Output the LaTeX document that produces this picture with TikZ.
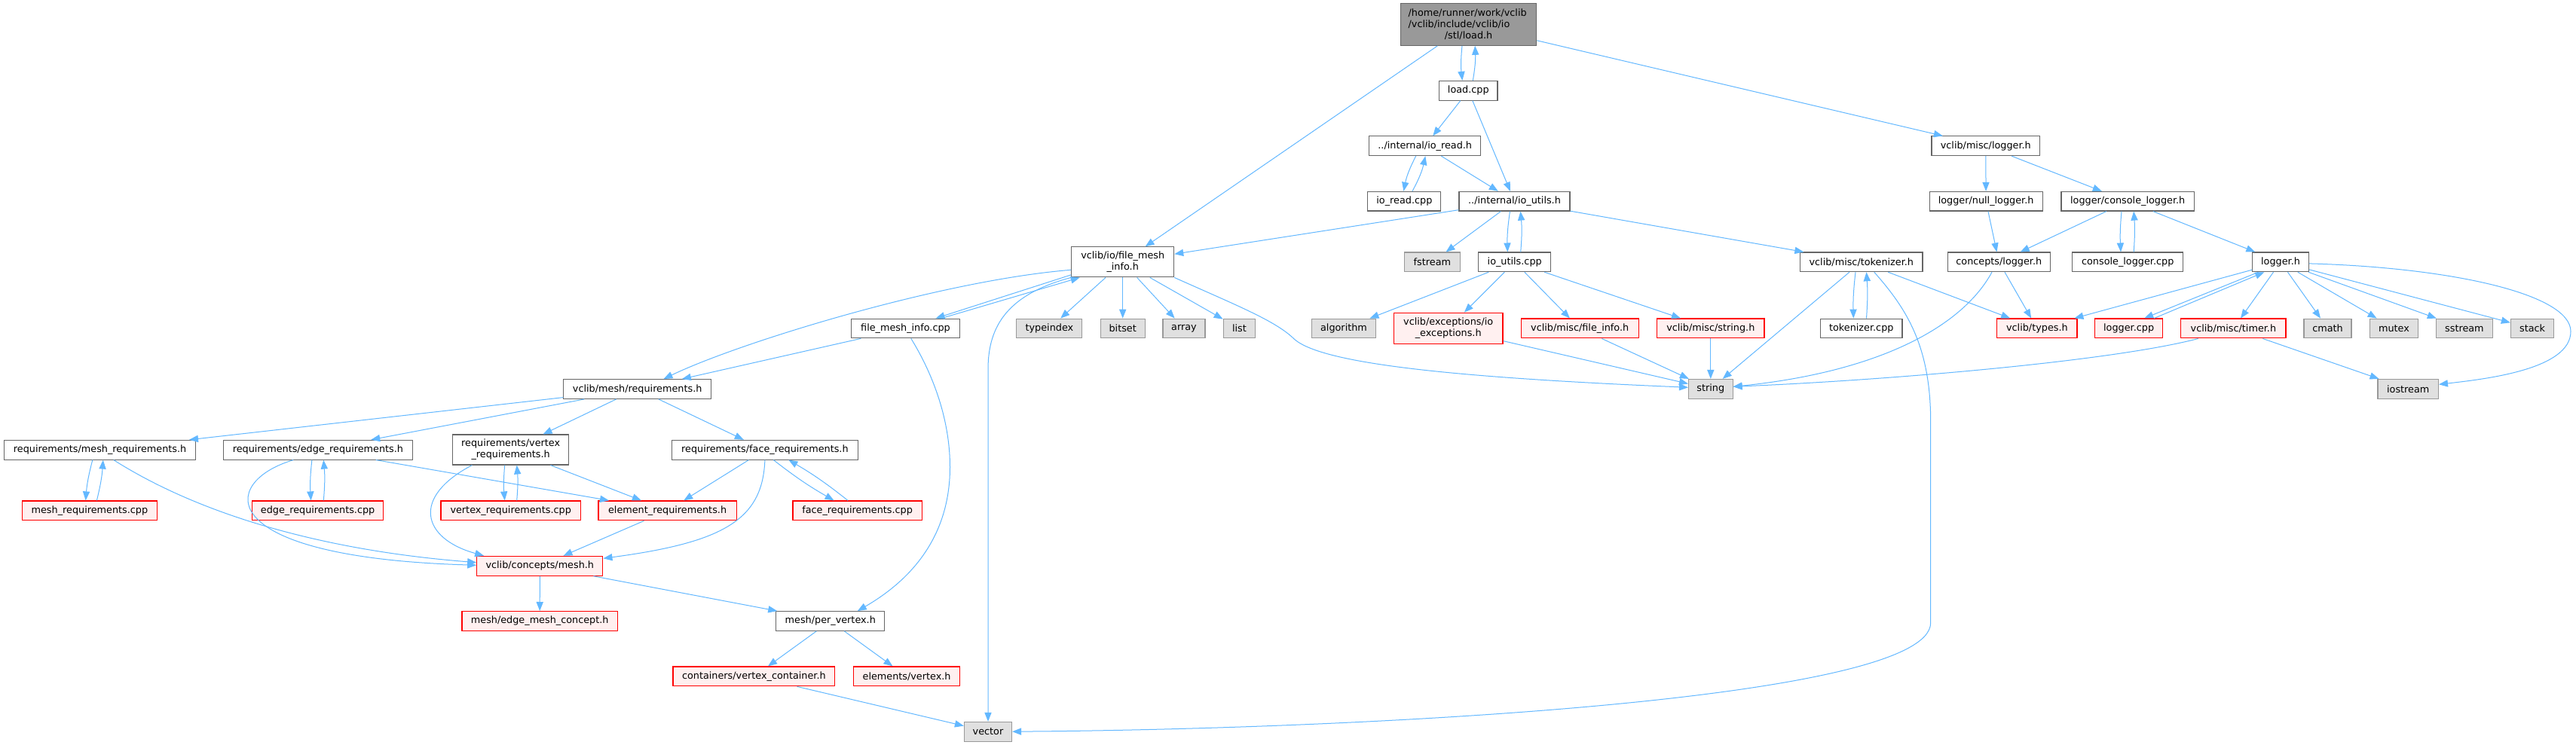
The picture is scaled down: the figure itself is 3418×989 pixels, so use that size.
\documentclass[tikz,border=0pt]{standalone}
\usepackage{fontspec}
\setmainfont{DejaVu Sans}
\usetikzlibrary{arrows.meta}
\definecolor{edgec}{HTML}{63B8FF}
\definecolor{gfour}{HTML}{666666}
\definecolor{gsix}{HTML}{999999}
\definecolor{sysfill}{HTML}{E0E0E0}
\definecolor{redfill}{HTML}{FFF0F0}
\begin{document}
\begin{tikzpicture}[x=0.5pt,y=-0.5pt,
  box/.style={rectangle, inner sep=0pt, minimum height=12.85pt, line width=0.55pt, font=\fontsize{6.4}{7.4}\selectfont, text=black},
  nrm/.style={box, draw=gfour, fill=white},
  rootn/.style={box, draw=gfour, fill=gsix},
  redn/.style={box, draw=red, fill=redfill, line width=0.65pt},
  sysn/.style={box, draw=gsix, fill=sysfill},
  e/.style={draw=edgec, line width=0.5pt, -{Triangle[length=6pt,width=4.6pt]}}]
\fill[white] (0,0) rectangle (3418,989);
\useasboundingbox (0,0) rectangle (3418,989);
% nodes
\node[rootn, minimum width=90.1pt, minimum height=27.8pt, text width=80pt, align=left] (root) at (1948.6,32.5) {/home/runner/work/vclib\\/vclib/include/vclib/io\\\makebox[\hsize]{/stl/load.h}};
\node[nrm, minimum width=38.7pt] (loadcpp) at (1948.3,120.3) {load.cpp};
\node[nrm, minimum width=74pt] (ioread) at (1890.7,193.8) {../internal/io\_read.h};
\node[nrm, minimum width=48.5pt] (ioreadcpp) at (1863.4,267.2) {io\_read.cpp};
\node[nrm, minimum width=73.5pt] (ioutils) at (2009.5,267.2) {../internal/io\_utils.h};
\node[nrm, minimum width=71.8pt] (misclogger) at (2634.8,193.8) {vclib/misc/logger.h};
\node[nrm, minimum width=75pt] (nulllogger) at (2635.1,267.2) {logger/null\_logger.h};
\node[nrm, minimum width=88.2pt] (consolelogger) at (2823.2,267.2) {logger/console\_logger.h};
\node[nrm, minimum width=68pt, minimum height=20pt, align=center] (fmi) at (1489.7,347.9) {vclib/io/file\_mesh\\\_info.h};
\node[sysn, minimum width=36.7pt] (fstream) at (1900.4,347.9) {fstream};
\node[nrm, minimum width=48pt] (ioutilscpp) at (2009.7,347.9) {io\_utils.cpp};
\node[nrm, minimum width=81.2pt] (tokenizer) at (2469.8,347.9) {vclib/misc/tokenizer.h};
\node[nrm, minimum width=68pt] (conceptslogger) at (2652.3,347.9) {concepts/logger.h};
\node[nrm, minimum width=73.5pt] (consoleloggercpp) at (2823.2,347.9) {console\_logger.cpp};
\node[nrm, minimum width=37.3pt] (loggerh) at (3026,347.9) {logger.h};
\node[nrm, minimum width=72.35pt] (fmicpp) at (1201.5,436) {file\_mesh\_info.cpp};
\node[sysn, minimum width=43.5pt] (typeindex) at (1392.4,436) {typeindex};
\node[sysn, minimum width=29.5pt] (bitset) at (1489.7,436) {bitset};
\node[sysn, minimum width=28pt] (array) at (1571,436) {array};
\node[sysn, minimum width=21.2pt] (list) at (1644.4,436) {list};
\node[sysn, minimum width=42.8pt] (algorithm) at (1783,436) {algorithm};
\node[redn, minimum width=72.35pt, minimum height=20.5pt, align=center] (ioexc) at (1921.7,435.8) {vclib/exceptions/io\\\_exceptions.h};
\node[redn, minimum width=78pt] (fileinfo) at (2096.2,436) {vclib/misc/file\_info.h};
\node[redn, minimum width=71.2pt] (stringh) at (2269.8,436) {vclib/misc/string.h};
\node[nrm, minimum width=54.2pt] (tokenizercpp) at (2469.8,436) {tokenizer.cpp};
\node[redn, minimum width=53.15pt] (types) at (2702.9,436) {vclib/types.h};
\node[redn, minimum width=45pt] (loggercpp) at (2824.6,436) {logger.cpp};
\node[redn, minimum width=69.65pt] (timer) at (2963.4,436) {vclib/misc/timer.h};
\node[sysn, minimum width=31.5pt] (cmath) at (3088.5,436) {cmath};
\node[sysn, minimum width=31.8pt] (mutex) at (3176.5,436) {mutex};
\node[sysn, minimum width=37.5pt] (sstream) at (3269.9,436) {sstream};
\node[sysn, minimum width=28.7pt] (stack) at (3360.1,436) {stack};
\node[sysn, minimum width=29.25pt] (string) at (2269.8,516.3) {string};
\node[sysn, minimum width=40.2pt] (iostream) at (3195.2,516.3) {iostream};
\node[nrm, minimum width=97.85pt] (requirements) at (845.7,516.5) {vclib/mesh/requirements.h};
\node[nrm, minimum width=127pt] (meshreq) at (132.6,597.2) {requirements/mesh\_requirements.h};
\node[nrm, minimum width=125.25pt] (edgereq) at (421.9,597.2) {requirements/edge\_requirements.h};
\node[nrm, minimum width=77.15pt, minimum height=20pt, align=center] (vertexreq) at (677.7,597) {requirements/vertex\\\_requirements.h};
\node[nrm, minimum width=123.3pt] (facereq) at (1014.9,597.2) {requirements/face\_requirements.h};
\node[redn, minimum width=89.4pt] (meshreqcpp) at (118.9,677.9) {mesh\_requirements.cpp};
\node[redn, minimum width=87pt] (edgereqcpp) at (421.6,677.9) {edge\_requirements.cpp};
\node[redn, minimum width=92.65pt] (vertexreqcpp) at (677.7,677.9) {vertex\_requirements.cpp};
\node[redn, minimum width=91.6pt] (elemreq) at (885.6,677.9) {element\_requirements.h};
\node[redn, minimum width=85.6pt] (facereqcpp) at (1137.6,677.9) {face\_requirements.cpp};
\node[redn, minimum width=83.5pt] (mesh) at (716.3,751.3) {vclib/concepts/mesh.h};
\node[redn, minimum width=103.2pt] (edgemesh) at (716.2,824.5) {mesh/edge\_mesh\_concept.h};
\node[nrm, minimum width=72pt] (pervertex) at (1101.8,824.5) {mesh/per\_vertex.h};
\node[redn, minimum width=107.4pt] (vcontainer) at (1000.4,897.9) {containers/vertex\_container.h};
\node[redn, minimum width=70.6pt] (vertexh) at (1203.1,897.9) {elements/vertex.h};
\node[sysn, minimum width=31.55pt] (vector) at (1311,971.2) {vector};
% edges
\draw[e] ([xshift=-4.3pt]root.south) to[bend right=6] ([xshift=-4pt]loadcpp.north);
\draw[e] ([xshift=3pt]loadcpp.north) to[bend right=6] ([xshift=4.3pt]root.south);
\draw[e] (root) -- (fmi);
\draw[e] (root) -- (misclogger);
\draw[e] (loadcpp) -- (ioread);
\draw[e] (loadcpp) -- (ioutils);
\draw[e] ([xshift=-6pt]ioread.south) to[bend right=8] ([xshift=-0.5pt]ioreadcpp.north);
\draw[e] ([xshift=5.3pt]ioreadcpp.north) to[bend right=8] ([xshift=0.3pt]ioread.south);
\draw[e] (ioread) -- (ioutils);
\draw[e] (ioutils) -- (fmi);
\draw[e] (ioutils) -- (fstream);
\draw[e] ([xshift=-3pt]ioutils.south) to[bend right=5] ([xshift=-4.7pt]ioutilscpp.north);
\draw[e] ([xshift=4pt]ioutilscpp.north) to[bend right=5] ([xshift=4pt]ioutils.south);
\draw[e] (ioutils) -- (tokenizer);
\draw[e] ([yshift=-8.5pt]fmi.west) -- ([xshift=20pt]fmicpp.north);
\draw[e] ([xshift=23.7pt]fmicpp.north) -- ([xshift=-28.5pt]fmi.south);
\draw[e] ([yshift=-5.2pt]fmi.west) .. controls (1250,372) and (980,455) .. ([xshift=17.4pt]requirements.north);
\draw[e] (fmicpp) -- (requirements);
\draw[e] (fmi) -- (typeindex);
\draw[e] (fmi) -- (bitset);
\draw[e] (fmi) -- (array);
\draw[e] (fmi) -- (list);
\draw[e] (fmi.south east) .. controls (1640,405) and (1690,425) .. (1715,448) .. controls (1745,480) and (1900,500) .. ([yshift=1pt]string.west);
\draw[e] (fmi.south west) .. controls (1340,390) and (1311,430) .. (1311,490) -- (vector.north);
\draw[e] ([xshift=3.65pt]fmicpp.south) .. controls (1240,500) and (1260.5,560) .. (1260.5,620) .. controls (1260.5,720) and (1200,775) .. ([xshift=18pt]pervertex.north);
\draw[e] (requirements) -- (meshreq);
\draw[e] (requirements) -- (edgereq);
\draw[e] (requirements) -- (vertexreq);
\draw[e] (requirements) -- (facereq);
\draw[e] ([xshift=-4.9pt]meshreq.south) to[bend right=5] ([xshift=-2.65pt]meshreqcpp.north);
\draw[e] ([xshift=4.75pt]meshreqcpp.north) to[bend right=5] ([xshift=2.1pt]meshreq.south);
\draw[e] ([xshift=9.1pt]meshreq.south) .. controls (260,680) and (420,730) .. ([yshift=2.3pt]mesh.west);
\draw[e] ([xshift=-4pt]edgereq.south) to[bend right=5] ([xshift=-4.5pt]edgereqcpp.north);
\draw[e] ([xshift=3.85pt]edgereqcpp.north) to[bend right=5] ([xshift=3.7pt]edgereq.south);
\draw[e] ([xshift=-16.3pt]edgereq.south) .. controls (290,640) and (280,740) .. ([yshift=0.5pt]mesh.west);
\draw[e] (edgereq) -- (elemreq);
\draw[e] ([xshift=-4pt]vertexreq.south) to[bend right=5] ([xshift=-4pt]vertexreqcpp.north);
\draw[e] ([xshift=4pt]vertexreqcpp.north) to[bend right=5] ([xshift=4pt]vertexreq.south);
\draw[e] ([xshift=-25.65pt]vertexreq.south) .. controls (545,660) and (560,715) .. ([xshift=5pt]mesh.north west);
\draw[e] (vertexreq) -- (elemreq);
\draw[e] (facereq) -- (elemreq);
\draw[e] (facereq.south) .. controls (1012,690) and (960,720) .. ([yshift=5pt]mesh.east);
\draw[e] ([xshift=5.7pt]facereq.south) to[bend right=4] ([xshift=-15.5pt]facereqcpp.north);
\draw[e] ([xshift=-6.3pt]facereqcpp.north) to[bend right=4] ([xshift=15.75pt]facereq.south);
\draw[e] (elemreq) -- (mesh);
\draw[e] (mesh) -- (edgemesh);
\draw[e] (mesh) -- (pervertex);
\draw[e] (pervertex) -- (vcontainer);
\draw[e] (pervertex) -- (vertexh);
\draw[e] (vcontainer) -- (vector);
\draw[e] (ioutilscpp) -- (algorithm);
\draw[e] (ioutilscpp) -- (ioexc);
\draw[e] (ioutilscpp) -- (fileinfo);
\draw[e] (ioutilscpp) -- (stringh);
\draw[e] (ioexc) -- (string);
\draw[e] (fileinfo) -- (string);
\draw[e] (stringh) -- (string);
\draw[e] (tokenizer) -- (string);
\draw[e] ([xshift=-3.9pt]tokenizer.south) to[bend right=4] ([xshift=-5.25pt]tokenizercpp.north);
\draw[e] ([xshift=3.35pt]tokenizercpp.north) to[bend right=4] ([xshift=3.35pt]tokenizer.south);
\draw[e] (tokenizer) -- (types);
\draw[e] ([xshift=8.5pt]tokenizer.south) .. controls (2530,410) and (2561.7,460) .. (2561.7,560) -- (2561.7,826.7) .. controls (2561.7,930) and (1800,968) .. (vector.east);
\draw[e] (misclogger) -- (nulllogger);
\draw[e] (misclogger) -- (consolelogger);
\draw[e] (nulllogger) -- (conceptslogger);
\draw[e] (consolelogger) -- (conceptslogger);
\draw[e] ([xshift=-4.1pt]consolelogger.south) to[bend right=4] ([xshift=-4.6pt]consoleloggercpp.north);
\draw[e] ([xshift=4pt]consoleloggercpp.north) to[bend right=4] ([xshift=4pt]consolelogger.south);
\draw[e] (consolelogger) -- (loggerh);
\draw[e] ([xshift=-4.65pt]conceptslogger.south) .. controls (2600,440) and (2480,495) .. ([yshift=1.5pt]string.east);
\draw[e] (conceptslogger) -- (types);
\draw[e] (loggerh) -- (types);
\draw[e] ([xshift=-14.75pt]loggerh.south) -- ([xshift=10.3pt]loggercpp.north);
\draw[e] ([xshift=16.8pt]loggercpp.north) -- ([xshift=-10.85pt]loggerh.south);
\draw[e] (loggerh) -- (timer);
\draw[e] (loggerh) -- (cmath);
\draw[e] (loggerh) -- (mutex);
\draw[e] (loggerh) -- (sstream);
\draw[e] (loggerh) -- (stack);
\draw[e] ([yshift=-1pt]loggerh.east) .. controls (3250,355) and (3411,390) .. (3411,440) .. controls (3411,490) and (3300,503) .. ([yshift=3pt]iostream.east);
\draw[e] ([xshift=-23.35pt]timer.south) .. controls (2800,480) and (2500,505) .. ([yshift=1.5pt]string.east);
\draw[e] (timer) -- (iostream);
\end{tikzpicture}
\end{document}
